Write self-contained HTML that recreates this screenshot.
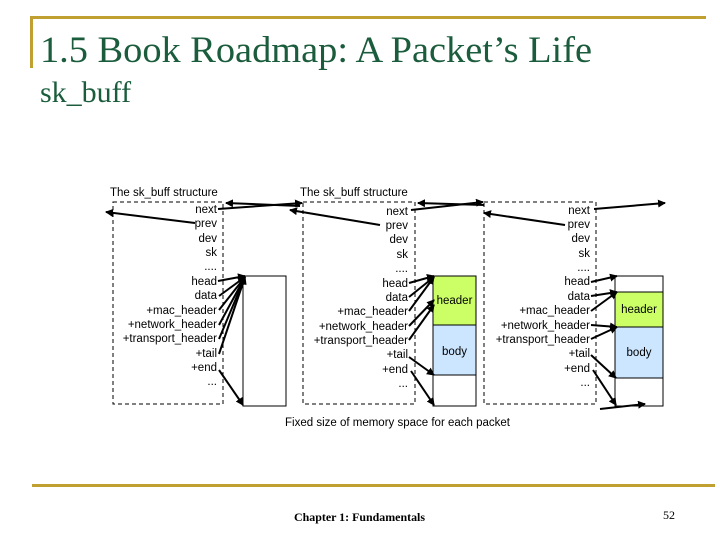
<!DOCTYPE html>
<html><head><meta charset="utf-8"><style>
html,body{margin:0;padding:0;background:#fff;}
svg{display:block;}
.t{font-family:"Liberation Sans",Arial,sans-serif;font-size:11.5px;fill:#000;}
</style></head><body>
<svg width="720" height="540" viewBox="0 0 720 540" xmlns="http://www.w3.org/2000/svg">
<defs>
<marker id="a" markerWidth="8" markerHeight="8" refX="7" refY="4" orient="auto" markerUnits="userSpaceOnUse"><path d="M0,0 L8,4 L0,8 z" fill="#000"/></marker>
</defs>
<!-- frame lines -->
<rect x="30" y="16" width="676" height="3" fill="#c0a030"/>
<rect x="30" y="16" width="3" height="52" fill="#c0a030"/>
<rect x="32" y="484" width="683" height="3" fill="#c0a030"/>
<text x="40" y="62" font-family="Liberation Serif,serif" font-size="37" fill="#1a5c3c" textLength="552" lengthAdjust="spacingAndGlyphs">1.5 Book Roadmap: A Packet’s Life</text>
<text x="40" y="102" font-family="Liberation Serif,serif" font-size="30" fill="#1a5c3c">sk_buff</text>
<text x="294" y="521" font-family="Liberation Serif,serif" font-size="12" font-weight="bold" textLength="131" lengthAdjust="spacingAndGlyphs">Chapter 1: Fundamentals</text>
<text x="663" y="519" font-family="Liberation Serif,serif" font-size="12">52</text>

<text class="t" x="110" y="196">The sk_buff structure</text>
<text class="t" x="300" y="196">The sk_buff structure</text>

<!-- dashed boxes -->
<g fill="none" stroke="#000" stroke-dasharray="4,3" stroke-width="1">
<rect x="113" y="202" width="110" height="202"/>
<rect x="303" y="202" width="112" height="202"/>
<rect x="484" y="202" width="112" height="202"/>
</g>

<!-- field labels -->
<g class="t" text-anchor="end">
<text x="217" y="213">next</text><text x="217" y="227">prev</text><text x="217" y="242">dev</text><text x="217" y="256">sk</text><text x="217" y="270">....</text><text x="217" y="285">head</text><text x="217" y="299">data</text><text x="217" y="314">+mac_header</text><text x="217" y="328">+network_header</text><text x="217" y="342">+transport_header</text><text x="217" y="357">+tail</text><text x="217" y="371">+end</text><text x="217" y="385">...</text>
<text x="408" y="215">next</text><text x="408" y="229">prev</text><text x="408" y="243">dev</text><text x="408" y="258">sk</text><text x="408" y="272">....</text><text x="408" y="287">head</text><text x="408" y="301">data</text><text x="408" y="315">+mac_header</text><text x="408" y="330">+network_header</text><text x="408" y="344">+transport_header</text><text x="408" y="358">+tail</text><text x="408" y="373">+end</text><text x="408" y="387">...</text>
<text x="590" y="214">next</text><text x="590" y="228">prev</text><text x="590" y="242">dev</text><text x="590" y="257">sk</text><text x="590" y="271">....</text><text x="590" y="285">head</text><text x="590" y="300">data</text><text x="590" y="314">+mac_header</text><text x="590" y="329">+network_header</text><text x="590" y="343">+transport_header</text><text x="590" y="357">+tail</text><text x="590" y="372">+end</text><text x="590" y="386">...</text>
</g>

<!-- buffers -->
<rect x="243" y="276" width="43" height="130" fill="#fff" stroke="#000"/>
<rect x="433" y="276" width="43" height="130" fill="#fff" stroke="#000"/>
<rect x="433" y="276" width="43" height="49" fill="#ccff66" stroke="#000"/>
<rect x="433" y="325" width="43" height="50" fill="#cce6ff" stroke="#000"/>
<text class="t" x="454.5" y="304" text-anchor="middle">header</text>
<text class="t" x="454.5" y="355" text-anchor="middle">body</text>
<rect x="615" y="276" width="48" height="130" fill="#fff" stroke="#000"/>
<rect x="615" y="292" width="48" height="35" fill="#ccff66" stroke="#000"/>
<rect x="615" y="327" width="48" height="51" fill="#cce6ff" stroke="#000"/>
<text class="t" x="639" y="313" text-anchor="middle">header</text>
<text class="t" x="639" y="356" text-anchor="middle">body</text>

<text class="t" x="285" y="426" font-size="11">Fixed size of memory space for each packet</text>

<!-- arrows -->
<g stroke="#000" stroke-width="2" fill="none" marker-end="url(#a)">
<!-- list links -->
<line x1="218" y1="209" x2="302" y2="203"/>
<line x1="195" y1="223" x2="106" y2="212"/>
<line x1="380" y1="225" x2="290" y2="210"/>
<line x1="300" y1="206" x2="226" y2="203"/>
<line x1="411" y1="210" x2="483" y2="202"/>
<line x1="565" y1="225" x2="484" y2="213"/>
<line x1="484" y1="205" x2="418" y2="203"/>
<line x1="594" y1="209" x2="665" y2="203"/>
<!-- box1 pointers -->
<line x1="218" y1="281" x2="245" y2="276"/>
<line x1="219" y1="296" x2="245" y2="277"/>
<line x1="219" y1="310" x2="245" y2="277"/>
<line x1="219" y1="325" x2="245" y2="277"/>
<line x1="219" y1="339" x2="245" y2="277"/>
<line x1="219" y1="354" x2="245" y2="277"/>
<line x1="219" y1="370" x2="243" y2="405"/>
<!-- box2 pointers -->
<line x1="409" y1="283" x2="434" y2="276"/>
<line x1="409" y1="297" x2="434" y2="277"/>
<line x1="409" y1="311" x2="434" y2="277"/>
<line x1="409" y1="326" x2="434" y2="300"/>
<line x1="409" y1="340" x2="434" y2="305"/>
<line x1="409" y1="357" x2="434" y2="375"/>
<line x1="411" y1="371" x2="434" y2="405"/>
<!-- box3 pointers -->
<line x1="591" y1="282" x2="617" y2="276"/>
<line x1="591" y1="296" x2="617" y2="292"/>
<line x1="591" y1="311" x2="617" y2="292"/>
<line x1="591" y1="325" x2="617" y2="327"/>
<line x1="591" y1="339" x2="617" y2="327"/>
<line x1="591" y1="355" x2="616" y2="378"/>
<line x1="593" y1="370" x2="616" y2="405"/>
<line x1="600" y1="409" x2="645" y2="404"/>
</g>
</svg>
</body></html>
